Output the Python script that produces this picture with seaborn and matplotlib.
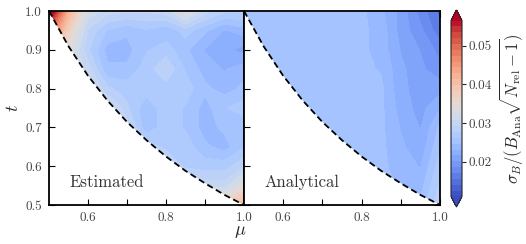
import numpy as np
import matplotlib
matplotlib.use("Agg")
import matplotlib.pyplot as plt
from matplotlib.patches import Polygon
import seaborn as sns

# grid of the maps
mu_vals = [0.50, 0.55, 0.60, 0.65, 0.70, 0.75, 0.80, 0.85, 0.90, 0.95, 1.00]
t_vals = [0.50, 0.55, 0.60, 0.65, 0.70, 0.75, 0.80, 0.85, 0.90, 0.95, 1.00]

# dashed boundary of the allowed region
edge_mu = [0.50, 0.55, 0.60, 0.65, 0.70, 0.75, 0.80, 0.85, 0.90, 0.95, 1.00]
edge_t = [1.000, 0.909, 0.833, 0.769, 0.714, 0.667, 0.625, 0.588, 0.556, 0.526, 0.500]

# rows from t=1.0 (top) down to t=0.5, columns mu 0.5 -> 1.0
estimated = [
    [0.062, 0.042, 0.032, 0.030, 0.0295, 0.0295, 0.030, 0.034, 0.030, 0.028, 0.028],
    [0.050, 0.037, 0.029, 0.026, 0.025, 0.026, 0.025, 0.027, 0.025, 0.023, 0.024],
    [0.040, 0.034, 0.028, 0.024, 0.024, 0.026, 0.027, 0.025, 0.023, 0.022, 0.021],
    [0.035, 0.033, 0.030, 0.025, 0.025, 0.027, 0.029, 0.026, 0.024, 0.023, 0.024],
    [0.033, 0.033, 0.032, 0.028, 0.027, 0.027, 0.027, 0.027, 0.025, 0.024, 0.025],
    [0.033, 0.033, 0.033, 0.032, 0.028, 0.025, 0.027, 0.026, 0.024, 0.026, 0.027],
    [0.033, 0.033, 0.033, 0.033, 0.030, 0.025, 0.027, 0.026, 0.024, 0.025, 0.025],
    [0.033, 0.033, 0.033, 0.033, 0.033, 0.029, 0.027, 0.027, 0.025, 0.024, 0.026],
    [0.033, 0.033, 0.033, 0.033, 0.033, 0.033, 0.031, 0.027, 0.027, 0.027, 0.029],
    [0.034, 0.034, 0.034, 0.034, 0.034, 0.034, 0.034, 0.034, 0.030, 0.030, 0.034],
    [0.036, 0.036, 0.036, 0.036, 0.036, 0.036, 0.036, 0.036, 0.036, 0.037, 0.042],
]
analytical = [
    [0.025, 0.025, 0.025, 0.025, 0.025, 0.025, 0.025, 0.0235, 0.021, 0.018, 0.015],
    [0.025, 0.025, 0.025, 0.025, 0.025, 0.025, 0.025, 0.024, 0.021, 0.019, 0.016],
    [0.025, 0.025, 0.025, 0.025, 0.025, 0.025, 0.025, 0.024, 0.0215, 0.020, 0.018],
    [0.025, 0.025, 0.025, 0.025, 0.025, 0.025, 0.025, 0.0245, 0.022, 0.0205, 0.019],
    [0.025, 0.025, 0.025, 0.025, 0.025, 0.025, 0.025, 0.025, 0.022, 0.021, 0.021],
    [0.025, 0.025, 0.025, 0.025, 0.025, 0.025, 0.025, 0.025, 0.0225, 0.021, 0.023],
    [0.025, 0.025, 0.025, 0.025, 0.025, 0.025, 0.025, 0.025, 0.023, 0.0215, 0.025],
    [0.025, 0.025, 0.025, 0.025, 0.025, 0.025, 0.025, 0.025, 0.0235, 0.022, 0.026],
    [0.025, 0.025, 0.025, 0.025, 0.025, 0.025, 0.025, 0.025, 0.024, 0.023, 0.027],
    [0.025, 0.025, 0.025, 0.025, 0.025, 0.025, 0.025, 0.025, 0.0245, 0.024, 0.028],
    [0.025, 0.025, 0.025, 0.025, 0.025, 0.025, 0.025, 0.025, 0.025, 0.025, 0.029],
]
panel_names = ["Estimated", "Analytical"]
cbar_ticks = [0.02, 0.03, 0.04, 0.05]

sns.set_theme(style="ticks")
plt.rcParams["font.family"] = "serif"
plt.rcParams["font.serif"] = ["cmr10", "DejaVu Serif"]
plt.rcParams["mathtext.fontset"] = "cm"
plt.rcParams["axes.formatter.use_mathtext"] = True
plt.rcParams["axes.unicode_minus"] = False

cmap = sns.color_palette("coolwarm", as_cmap=True)
levels = np.linspace(0.011, 0.0565, 31)

fig = plt.figure(figsize=(5.26, 2.44), dpi=100)
ax1 = fig.add_axes([49 / 526, 1 - 205 / 244, 195 / 526, 194 / 244])
ax2 = fig.add_axes([244 / 526, 1 - 205 / 244, 196 / 526, 194 / 244], sharey=ax1)

M, T = np.meshgrid(mu_vals, t_vals)
region = list(zip(edge_mu, edge_t)) + [(1.0, 1.0)]

for ax, data, name in zip([ax1, ax2], [estimated, analytical], panel_names):
    Z = np.array(data)[::-1]
    cs = ax.contourf(M, T, Z, levels=levels, cmap=cmap, extend="both")
    clip = Polygon(region, closed=True, transform=ax.transData,
                   facecolor="none", edgecolor="none")
    ax.add_patch(clip)
    cs.set_clip_path(clip)
    sns.lineplot(x=edge_mu, y=edge_t, ax=ax, color="black", lw=1.3,
                 linestyle=(0, (3.5, 2)), sort=False, estimator=None)
    ax.text(0.553, 0.546, name, fontsize=12, color="#333333")
    ax.set_xlim(0.5, 1.0)
    ax.set_ylim(0.5, 1.0)
    ax.set_xticks([0.6, 0.8, 1.0])
    ax.set_xticks([0.7, 0.9], minor=True)
    ax.set_xticklabels(["0.6", "0.8", "1.0"])
    ax.tick_params(which="both", direction="in", top=True, right=True,
                   length=4, width=0.8, labelsize=9.5, colors="black",
                   labelcolor="#444444", pad=5)
    for s in ax.spines.values():
        s.set_linewidth(1.3)
        s.set_color("black")

ax1.set_yticks([0.5, 0.6, 0.7, 0.8, 0.9, 1.0])
ax1.set_yticklabels(["0.5", "0.6", "0.7", "0.8", "0.9", "1.0"])
ax2.tick_params(labelleft=False)
ax1.set_ylabel(r"$t$", fontsize=13, labelpad=3)
fig.text(240 / 526, 1 - 232 / 244, r"$\mu$", fontsize=13, ha="center", va="center")

cax = fig.add_axes([451 / 526, 1 - 207 / 244, 11 / 526, 197 / 244])
cbar = fig.colorbar(cs, cax=cax, ticks=cbar_ticks, extendfrac=0.06)
cbar.ax.set_yticklabels(["0.02", "0.03", "0.04", "0.05"])
cbar.ax.tick_params(direction="out", length=3, width=0.8, labelsize=9.5,
                    labelcolor="#444444", pad=2)
cbar.outline.set_linewidth(0.8)
cbar.set_label(r"$\sigma_B/(B_{\rm Ana}\sqrt{N_{\rm rel}-1})$", fontsize=12,
               labelpad=4)

fig.savefig("out.png", dpi=100)
